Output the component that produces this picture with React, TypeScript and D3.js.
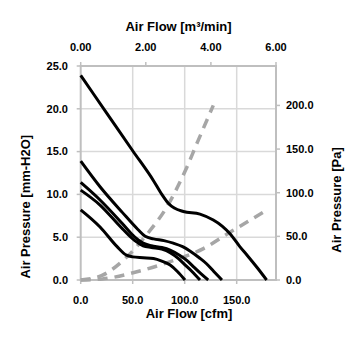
import React from "react";
import * as d3 from "d3";

// Fan P-Q curves: [airflow cfm, pressure mm-H2O]
const curve1: [number, number][] = [[0,23.9],[25,19.5],[50,15.1],[70,11.6],[78,10.0],[84,9.0],[90,8.4],[98.7,8.0],[114.7,7.7],[127.5,7.0],[136,6.3],[143.6,5.4],[153,3.9],[160,2.9],[170,1.4],[178.8,0]];
const curve2: [number, number][] = [[0,13.9],[18.6,10.9],[40,7.9],[55,5.9],[62,5.1],[70,4.8],[80,4.6],[89,4.3],[98,3.9],[105,3.4],[114,2.6],[121,1.9],[128,1.0],[135.8,0]];
const curve3: [number, number][] = [[0,11.4],[18.6,9.35],[40,6.6],[52,5.0],[60,4.3],[68,4.0],[78,3.8],[86,3.5],[95,2.9],[102,2.3],[108,1.6],[115,0.8],[122.6,0]];
const curve4: [number, number][] = [[0,10.5],[18.6,8.76],[40,6.0],[52,4.6],[60,4.0],[68,3.8],[78,3.6],[86,3.2],[94,2.5],[100,1.8],[107,1.0],[114.7,0]];
const curve5: [number, number][] = [[0,8.2],[18.6,6.2],[35,3.9],[44,2.9],[50,2.7],[60,2.6],[70,2.5],[78,2.2],[86,1.75],[93,1.0],[100.3,0]];
const fanCurves = [curve1, curve2, curve3, curve4, curve5];

// System impedance curves: [airflow cfm, pressure Pa]
const systemSteep: [number, number][] = [[0,0],[20,5],[44,26],[63.5,52],[83,84],[102,129],[113,160],[127.5,200]];
const systemShallow: [number, number][] = [[0,0],[21,1.2],[54,9.5],[86,21],[118,36],[144,55],[176,78]];
const systemCurves = [systemSteep, systemShallow];

const cfmTicks = [0, 50, 100, 150];
const m3Ticks = [0, 2, 4, 6];
const mmTicks = [0, 5, 10, 15, 20, 25];
const paTicks = [0, 50, 100, 150, 200];

const W = 355, H = 355;
const L = 80.7, R = 276, T = 66, B = 280;
const FONT = "'Liberation Sans', Arial, sans-serif";

export default function App() {
  const x = d3.scaleLinear().domain([0, 187.8]).range([L, R]);
  const xTop = d3.scaleLinear().domain([0, 6]).range([L, R]);
  const y = d3.scaleLinear().domain([0, 25]).range([B, T]);
  const yPa = d3.scaleLinear().domain([0, 25 * 9.80665]).range([B, T]);

  const lineMm = d3.line<[number, number]>().x(d => x(d[0])).y(d => y(d[1])).curve(d3.curveMonotoneX);
  const linePa = d3.line<[number, number]>().x(d => x(d[0])).y(d => yPa(d[1])).curve(d3.curveMonotoneX);

  const gridColor = "#d9d9d9";
  const axisColor = "#bfbfbf";

  return (
    <svg width={W} height={H} style={{ position: "absolute", left: 0, top: 0, background: "#fff" }} fontFamily={FONT}>
      {/* grid */}
      {cfmTicks.filter(t => t > 0).map(t => (
        <line key={"gx" + t} x1={x(t)} x2={x(t)} y1={T} y2={B} stroke={gridColor} strokeWidth={1.5} />
      ))}
      {mmTicks.filter(t => t > 0 && t < 25).map(t => (
        <line key={"gy" + t} x1={L} x2={R} y1={y(t)} y2={y(t)} stroke={gridColor} strokeWidth={1.5} />
      ))}
      {/* frame */}
      <rect x={L} y={T} width={R - L} height={B - T} fill="none" stroke={axisColor} strokeWidth={2} />
      {/* ticks */}
      {mmTicks.map(t => <line key={"tl" + t} x1={L - 4} x2={L} y1={y(t)} y2={y(t)} stroke={axisColor} strokeWidth={1.5} />)}
      {paTicks.map(t => <line key={"tr" + t} x1={R} x2={R + 4} y1={yPa(t)} y2={yPa(t)} stroke={axisColor} strokeWidth={1.5} />)}
      {m3Ticks.map(t => <line key={"tt" + t} x1={xTop(t)} x2={xTop(t)} y1={T - 4} y2={T} stroke={axisColor} strokeWidth={1.5} />)}
      {cfmTicks.map(t => <line key={"tb" + t} x1={x(t)} x2={x(t)} y1={B} y2={B + 4} stroke={axisColor} strokeWidth={1.5} />)}

      {/* system curves */}
      {systemCurves.map((c, i) => (
        <path key={"s" + i} d={linePa(c) || ""} fill="none" stroke="#a6a6a6" strokeWidth={3.5} strokeDasharray="10,7" />
      ))}
      {/* fan curves */}
      {fanCurves.map((c, i) => (
        <path key={"f" + i} d={lineMm(c) || ""} fill="none" stroke="#000" strokeWidth={3} strokeLinejoin="round" />
      ))}

      {/* tick labels */}
      <g fontSize={11} fontWeight="bold" fill="#000">
        {mmTicks.map(t => (
          <text key={"ll" + t} x={68} y={y(t)} dy="0.35em" textAnchor="end">{t.toFixed(1)}</text>
        ))}
        {paTicks.map(t => (
          <text key={"rl" + t} x={286} y={yPa(t)} dy="0.35em" textAnchor="start">{t.toFixed(1)}</text>
        ))}
        {m3Ticks.map(t => (
          <text key={"tl" + t} x={xTop(t)} y={51} textAnchor="middle">{t.toFixed(2)}</text>
        ))}
        {cfmTicks.map(t => (
          <text key={"bl" + t} x={x(t)} y={304} textAnchor="middle">{t.toFixed(1)}</text>
        ))}
      </g>

      {/* axis titles */}
      <g fontSize={13} fontWeight="bold" fill="#000">
        <text x={178.5} y={31} textAnchor="middle">Air Flow [m³/min]</text>
        <text x={189} y={318} textAnchor="middle">Air Flow [cfm]</text>
        <text transform={`translate(29.5,206.7) rotate(-90)`} textAnchor="middle">Air Pressure [mm-H2O]</text>
        <text transform={`translate(341,200) rotate(-90)`} textAnchor="middle">Air Pressure [Pa]</text>
      </g>
    </svg>
  );
}
